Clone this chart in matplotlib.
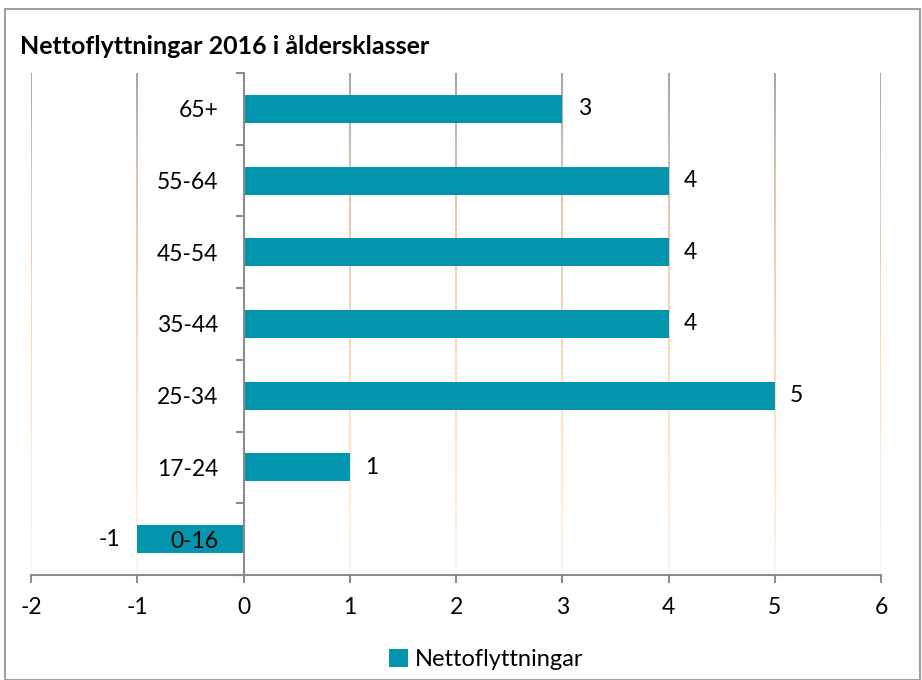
import numpy as np
import matplotlib
matplotlib.use('Agg')
import matplotlib.pyplot as plt
from matplotlib.collections import LineCollection
from matplotlib.colors import LinearSegmentedColormap
from matplotlib.patches import Rectangle
import matplotlib.transforms as mtransforms

plt.rcParams['font.family'] = ['Lato', 'DejaVu Sans']

# -----------------------------
# Data
# -----------------------------
age_groups = ["0-16", "17-24", "25-34", "35-44", "45-54", "55-64", "65+"]
net_moves = [-1, 1, 5, 4, 4, 4, 3]
series_name = "Nettoflyttningar"
title = "Nettoflyttningar 2016 i åldersklasser"
x_ticks = [-2, -1, 0, 1, 2, 3, 4, 5, 6]

bar_color = "#0495ae"
axis_gray = "#8c8c8c"

# -----------------------------
# Figure
# -----------------------------
fig = plt.figure(figsize=(9.22, 6.8), dpi=100)
ax = fig.add_axes([31 / 922, 1 - 575 / 680, 850 / 922, 502 / 680])
ax.set_axisbelow(False)  # category labels must sit on top of the negative bar

y = np.arange(len(age_groups))
ax.barh(y, net_moves, height=0.39, color=bar_color, zorder=2, label=series_name)

ax.set_xlim(-2, 6)
ax.set_ylim(-0.5, len(age_groups) - 0.5)

# gradient grid lines (grey at top, peach in the middle, faded at bottom)
cmap = LinearSegmentedColormap.from_list(
    "grid", [(0.0, "#fef4ee"), (0.45, "#fdd9b6"), (0.8, "#d8c6b6"), (1.0, "#a6a6a6")])
trans = mtransforms.blended_transform_factory(ax.transData, ax.transAxes)
n_seg = 120
t = np.linspace(0, 1, n_seg + 1)
for xv in x_ticks:
    if xv == 0:
        continue
    segs = [[(xv, t[i]), (xv, t[i + 1])] for i in range(n_seg)]
    lc = LineCollection(segs, colors=cmap((t[:-1] + t[1:]) / 2),
                        linewidths=1.5, transform=trans, zorder=1)
    ax.add_collection(lc)

# spines
for s in ["top", "right"]:
    ax.spines[s].set_visible(False)
ax.spines["left"].set_position(("data", 0))
ax.spines["left"].set_color(axis_gray)
ax.spines["left"].set_linewidth(1.5)
ax.spines["bottom"].set_color(axis_gray)
ax.spines["bottom"].set_linewidth(1.5)

# x ticks
ax.set_xticks(x_ticks)
ax.set_xticklabels([str(v) for v in x_ticks], fontsize=16.5)
ax.tick_params(axis="x", length=6, width=1.5, color=axis_gray, pad=10)

# y ticks: labels at centres, tick marks between categories
ax.set_yticks(y)
ax.set_yticklabels(age_groups, fontsize=16.5)
ax.set_yticks(np.arange(-0.5, len(age_groups), 1), minor=True)
ax.tick_params(axis="y", which="major", length=0, pad=18)
ax.tick_params(axis="y", which="minor", length=6, width=1.5, color=axis_gray)

# value labels
for yi, v in zip(y, net_moves):
    if v >= 0:
        ax.annotate(str(v), (v, yi), xytext=(11, 0), textcoords="offset points",
                    ha="left", va="center", fontsize=16.5)
    else:
        ax.annotate(str(v), (v, yi), xytext=(-12, 0), textcoords="offset points",
                    ha="right", va="center", fontsize=16.5)

# title
fig.text(20 / 922, 1 - 46 / 680, title, fontsize=18, fontweight="bold",
         ha="left", va="center")

# legend
ax.legend(loc="center", bbox_to_anchor=(0.527, 0.03), bbox_transform=fig.transFigure,
          frameon=False, fontsize=17, handlelength=0.8, handleheight=0.8,
          handletextpad=0.3)

# outer border
fig.patches.append(Rectangle((5 / 922, 0), 915 / 922, 1 - 9 / 680, transform=fig.transFigure,
                             fill=False, edgecolor="#a0a0a0", linewidth=1.5))

fig.savefig("out.png", dpi=100)
